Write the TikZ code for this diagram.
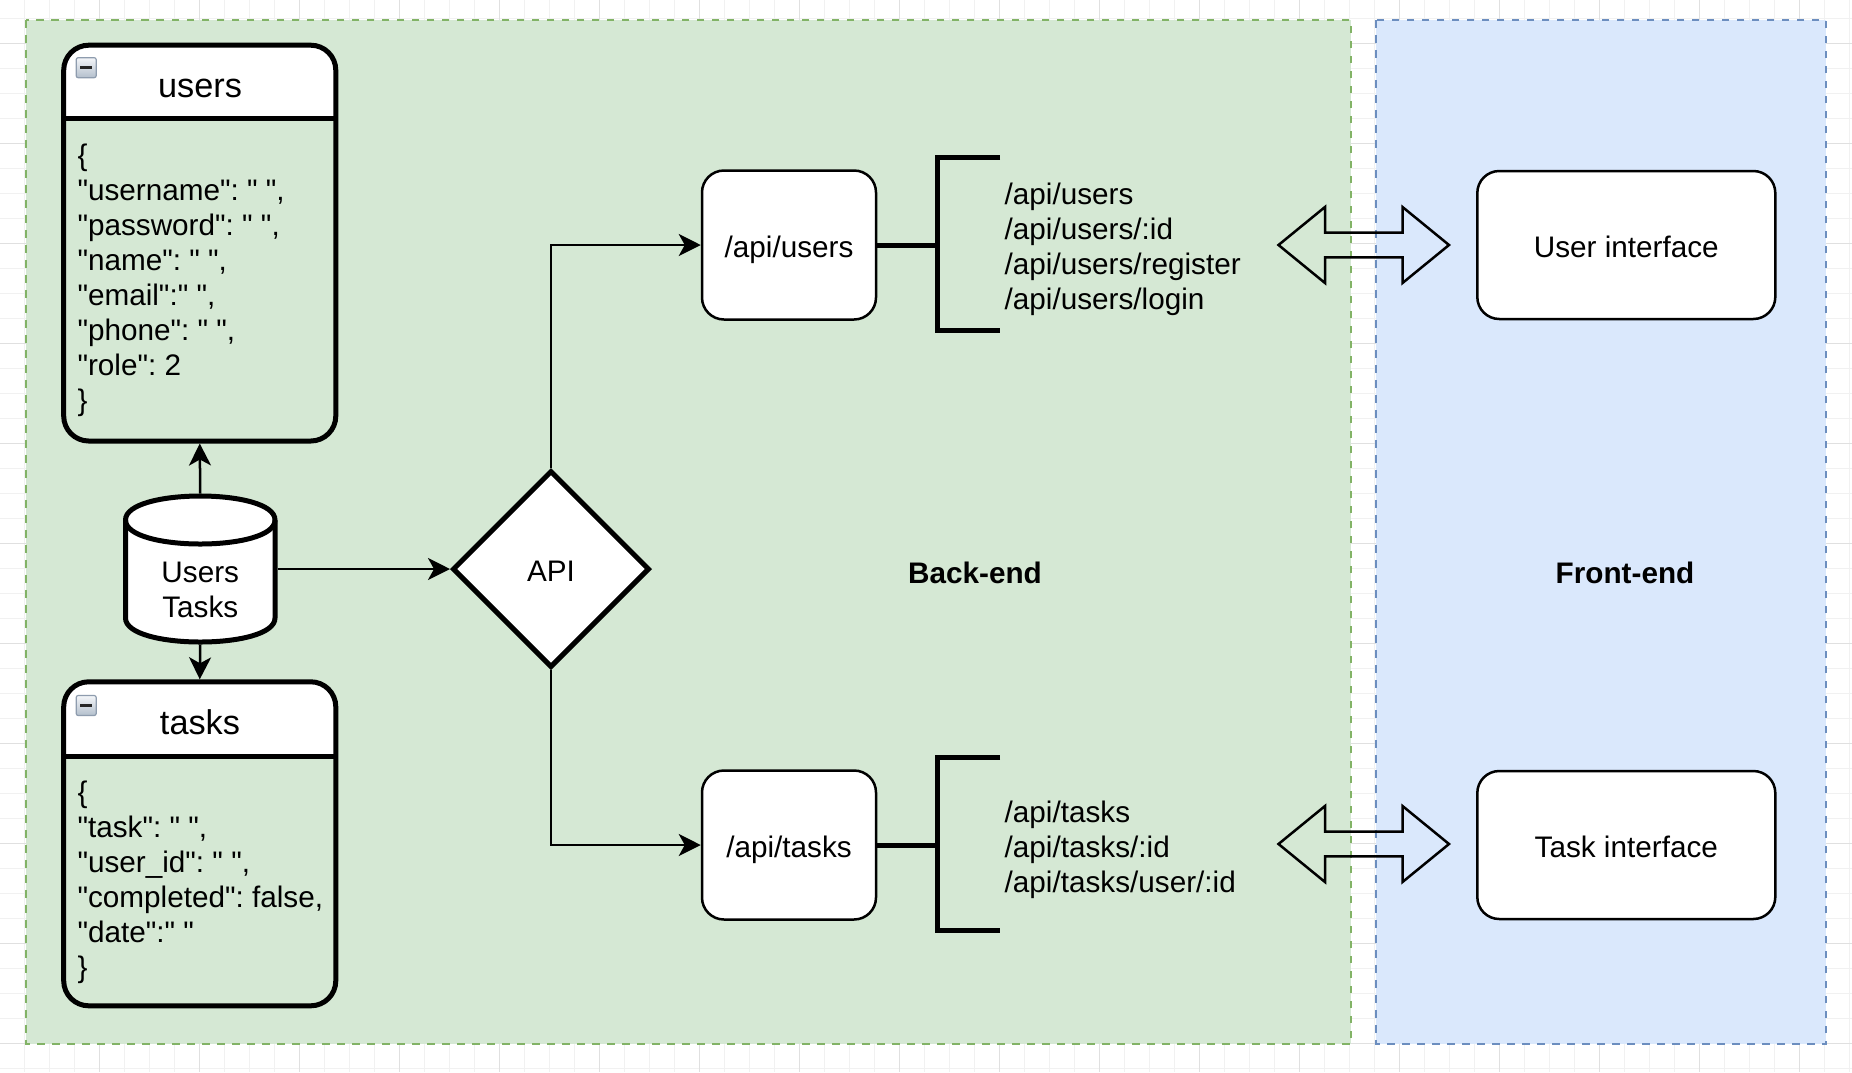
\documentclass[tikz,border=0pt]{standalone}
\usepackage{fontspec}
\newfontfamily\lsans{Liberation Sans}
\usetikzlibrary{arrows.meta,shapes.geometric}
\definecolor{gfill}{HTML}{D5E8D4}
\definecolor{gline}{HTML}{82B366}
\definecolor{bfill}{HTML}{DAE8FC}
\definecolor{bline}{HTML}{6C8EBF}
\definecolor{gridminor}{HTML}{F1F1F1}
\definecolor{gridmajor}{HTML}{E0E0E0}
\definecolor{iconline}{HTML}{8E9CAE}
\definecolor{icontop}{HTML}{F4F6F9}
\definecolor{iconbot}{HTML}{B3BFCC}
\frenchspacing
\begin{document}
\begin{tikzpicture}[x=1pt,y=-1pt,
  every node/.style={font=\lsans\fontsize{29.7}{35}\selectfont, inner sep=0pt},
  zone/.style={line width=2.5pt, dash pattern=on 7.5pt off 7.5pt},
  thickbox/.style={rectangle, draw, line width=5pt, rounded corners=25pt},
  thinbox/.style={rectangle, draw, line width=2.5pt, rounded corners=22pt, fill=white,
                  text height=25.4pt, text depth=0pt},
  conn/.style={line width=2.5pt, -{Stealth[length=22pt,width=22pt,inset=6pt]}},
  thickline/.style={line width=5pt},
  txt/.style={anchor=base west},
  ctxt/.style={anchor=base},
  boxtitle/.style={anchor=base, font=\lsans\fontsize{34.3}{40}\selectfont},
  zonelabel/.style={anchor=base, font=\lsans\fontsize{29.7}{35}\selectfont\bfseries},
  minusicon/.style={rectangle, draw=iconline, line width=1.2pt, rounded corners=2pt,
                    top color=icontop, bottom color=iconbot, minimum size=20pt},
  dblarrow/.style={draw, line width=2.5pt, line join=miter}
]
\useasboundingbox (0,0) rectangle (1852,1072);
\fill[white] (0,0) rectangle (1852,1072);
% background grid
\foreach \i in {0,...,73} \draw[gridminor, line width=1.2pt] ({24.3+25*\i},0) -- ({24.3+25*\i},1072);
\foreach \j in {0,...,42} \draw[gridminor, line width=1.2pt] (0,{18.3+25*\j}) -- (1852,{18.3+25*\j});
\foreach \i in {0,...,17} \draw[gridmajor, line width=1.2pt] ({99.3+100*\i},0) -- ({99.3+100*\i},1072);
\foreach \j in {0,...,10} \draw[gridmajor, line width=1.2pt] (0,{43.3+100*\j}) -- (1852,{43.3+100*\j});

% containers
\filldraw[fill=gfill, draw=gline, zone] (26,20) rectangle (1351,1044);
\filldraw[fill=bfill, draw=bline, zone] (1376,20) rectangle (1826,1044);

% users table
\begin{scope}
  \clip[rounded corners=25pt] (63.7,45.2) rectangle (335.8,441);
  \fill[white] (63.7,45.2) rectangle (335.8,118.3);
\end{scope}
\node[thickbox, minimum width=272.1pt, minimum height=395.8pt] (users) at (199.75,243.1) {};
\draw[thickline] (63.7,118.3) -- (335.8,118.3);
\node[minusicon] (uminus) at (86.2,67.7) {\color{black!85}\rule{12pt}{2.6pt}};
\node[boxtitle] (utitle) at (200,97.7) {users};
\foreach \t [count=\i from 0] in {{\{}, {"username": " ",}, {"password": " ",}, {"name": " ",}, {"email":" ",}, {"phone": " ",}, {"role": 2}, {\}}}
  \node[txt] (ujson\i) at (77.3,{165+35*\i}) {\t};

% tasks table
\begin{scope}
  \clip[rounded corners=25pt] (63.7,681.8) rectangle (335.8,1005.8);
  \fill[white] (63.7,681.8) rectangle (335.8,756);
\end{scope}
\node[thickbox, minimum width=272.1pt, minimum height=324pt] (tasks) at (199.75,843.8) {};
\draw[thickline] (63.7,756) -- (335.8,756);
\node[minusicon] (tminus) at (86.2,705.5) {\color{black!85}\rule{12pt}{2.6pt}};
\node[boxtitle] (ttitle) at (200,734.3) {tasks};
\foreach \t [count=\i from 0] in {{\{}, {"task": " ",}, {"user\_id": " ",}, {"completed": false,}, {"date":" "}, {\}}}
  \node[txt] (tjson\i) at (77.3,{802.7+35*\i}) {\t};

% database cylinder
\filldraw[fill=white, line width=5pt] (125.5,520) -- (125.5,618)
  .. controls (125.5,650) and (275,650) .. (275,618) -- (275,520)
  .. controls (275,488) and (125.5,488) .. (125.5,520) -- cycle;
\draw[line width=5pt] (125.5,520) .. controls (125.5,552) and (275,552) .. (275,520);
\node[minimum width=149.5pt, minimum height=146pt, outer sep=2.5pt] (db) at (200.25,569) {};
\node[ctxt] (dbl1) at (200.25,582.7) {Users};
\node[ctxt] (dbl2) at (200.25,617.7) {Tasks};

% API diamond
\node[diamond, draw, line width=5pt, fill=white, minimum width=197pt, minimum height=197pt,
      text height=25.4pt, text depth=0pt] (api) at (551,569) {API};

% endpoint boxes
\node[thinbox, minimum width=174pt, minimum height=149pt] (apiu) at (789,245) {/api/users};
\node[thinbox, minimum width=174pt, minimum height=149pt] (apit) at (789,845) {/api/tasks};

% connectors
\draw[conn] (db.north) -- (users.south);
\draw[conn] (db.south) -- (tasks.north);
\draw[conn] (db.east) -- (api.west);
\draw[conn] (api.north) |- (apiu.west);
\draw[conn] (api.south) |- (apit.west);

% brackets
\coordinate (brU) at (937,245);
\coordinate (brT) at (937,845);
\draw[thickline] (apiu.east) -- (brU);
\draw[thickline] (apit.east) -- (brT);
\draw[thickline] (1000,157.5) -- (937,157.5) -- (937,330.5) -- (1000,330.5);
\draw[thickline] (1000,757.5) -- (937,757.5) -- (937,930.8) -- (1000,930.8);
\foreach \t [count=\i from 0] in {/api/users, /api/users/:id, /api/users/register, /api/users/login}
  \node[txt] (ulist\i) at (1004.5,{204.3+35*\i}) {\t};
\foreach \t [count=\i from 0] in {/api/tasks, /api/tasks/:id, /api/tasks/user/:id}
  \node[txt] (tlist\i) at (1004.5,{822.7+35*\i}) {\t};

% double arrows
\foreach \c in {245,844}
  \draw[dblarrow] (1278.5,\c) -- (1325,\c-38) -- (1325,\c-12.3) -- (1402.5,\c-12.3)
    -- (1402.5,\c-38) -- (1449,\c) -- (1402.5,\c+38) -- (1402.5,\c+12.3)
    -- (1325,\c+12.3) -- (1325,\c+38) -- cycle;

% front-end boxes
\node[thinbox, minimum width=298pt, minimum height=148pt] (ui) at (1626.3,245) {User interface};
\node[thinbox, minimum width=298pt, minimum height=148pt] (ti) at (1626.3,845) {Task interface};

% zone labels
\node[zonelabel] (backend) at (975,583.5) {Back-end};
\node[zonelabel] (frontend) at (1625,583.5) {Front-end};
\end{tikzpicture}
\end{document}
